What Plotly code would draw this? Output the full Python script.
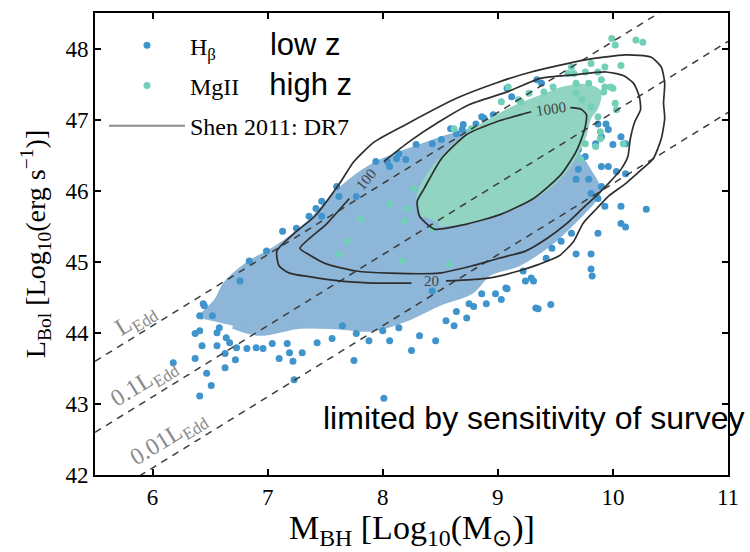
import plotly.graph_objects as go

# ---------------- data ----------------
# axis ticks
x_ticks = [6, 7, 8, 9, 10, 11]
y_ticks = [42, 43, 44, 45, 46, 47, 48]

# Eddington-ratio reference lines: log L = offset + log M
edd_names = ["L<sub>Edd</sub>", "0.1L<sub>Edd</sub>", "0.01L<sub>Edd</sub>"]
edd_offsets = [38.1, 37.1, 36.1]
edd_x_ends = [5.5, 11.0]
edd_label_M = [5.86, 5.93, 6.14]
edd_label_L = [44.18, 43.30, 42.50]

# dense H-beta (low z) region outline
blue_dense_M = [6.41, 6.56, 6.64, 6.84, 7.08, 7.36, 7.62, 7.91, 8.34, 8.75, 9.18, 9.66, 9.79, 9.87,
                9.74, 9.61, 9.47, 9.18, 8.92, 8.77, 8.49, 8.20, 7.91, 7.62, 7.28, 6.93, 6.70]
blue_dense_L = [44.21, 44.45, 44.69, 44.97, 45.19, 45.54, 45.99, 46.34, 46.62, 46.83, 46.90, 46.55, 46.27, 45.99,
                45.71, 45.50, 45.29, 44.98, 44.84, 44.59, 44.42, 44.20, 44.06, 44.09, 44.10, 44.00, 44.10]

# dense MgII (high z) region outline
teal_dense_M = [8.36, 8.32, 8.40, 8.58, 8.79, 9.01, 9.18, 9.40, 9.57, 9.74, 9.87, 9.85, 9.79, 9.74,
                9.68, 9.57, 9.40, 9.18, 8.96, 8.70, 8.49]
teal_dense_L = [45.64, 45.92, 46.20, 46.55, 46.83, 47.04, 47.18, 47.32, 47.42, 47.46, 47.39, 47.18, 47.04, 46.76,
                46.55, 46.27, 46.02, 45.81, 45.68, 45.57, 45.54]

# individual H-beta quasars
blue_M = [6.45, 6.41, 6.52, 6.37, 6.56, 6.43, 6.56, 6.67, 6.63, 6.73, 6.37, 6.47, 6.51, 6.41, 6.63, 6.72,
          6.82, 6.90, 6.96, 7.04, 7.17, 7.19, 7.30, 7.22, 7.10, 7.43, 7.56, 7.75, 7.23, 6.18, 6.44, 6.41,
          6.58, 6.64, 6.76, 6.84, 6.99, 7.13, 7.25, 7.36, 7.47, 7.42, 7.47, 7.60, 7.62, 7.77, 7.94, 8.06,
          8.14, 8.20, 8.29, 8.43, 8.51, 8.64, 8.69, 8.81, 8.86, 8.04, 8.12, 8.59, 8.70, 8.88, 8.96, 9.34,
          9.38, 9.12, 9.08, 9.94, 9.87, 9.96, 9.90, 10.07, 10.00, 10.11, 9.85, 9.70, 9.76, 9.90, 9.96, 10.03,
          10.11, 9.70, 9.79, 9.68, 9.81, 9.90, 9.87, 10.29, 10.07, 10.07, 10.11, 9.87, 9.68, 9.81, 9.81, 9.82,
          9.35, 9.46, 9.31, 9.29, 9.22, 9.93, 9.64, 9.55, 9.47, 9.42, 7.65, 7.77, 8.00, 8.14, 8.46, 8.25,
          8.55, 8.62, 8.73, 8.86, 8.98, 9.07, 9.24, 9.33, 8.75, 8.43, 8.01, 8.64, 8.79, 8.90, 9.03, 9.08,
          8.32, 8.06, 7.88]
blue_L = [44.38, 44.24, 44.24, 43.99, 44.00, 43.82, 43.82, 43.86, 43.71, 43.79, 43.64, 43.43, 43.26, 43.11, 43.51, 43.62,
          43.78, 43.79, 43.78, 43.85, 43.85, 43.72, 43.72, 43.60, 43.64, 43.86, 43.92, 43.61, 43.34, 43.58, 44.41, 44.03,
          44.07, 43.93, 44.73, 45.01, 45.15, 45.43, 45.47, 45.64, 45.64, 45.75, 45.85, 46.06, 45.92, 45.92, 46.41, 46.34,
          46.52, 46.44, 46.65, 46.66, 46.72, 46.80, 46.86, 46.94, 47.04, 46.41, 46.45, 46.87, 46.93, 47.02, 47.07, 47.56,
          47.51, 47.32, 47.44, 46.94, 46.94, 46.86, 46.76, 46.76, 46.65, 46.66, 46.66, 46.58, 46.48, 46.34, 46.34, 46.27,
          46.24, 46.30, 46.16, 46.16, 45.96, 46.06, 45.89, 45.74, 45.78, 45.54, 45.49, 45.40, 45.11, 45.11, 44.90, 44.80,
          44.34, 44.40, 44.73, 44.77, 44.87, 45.78, 45.40, 45.29, 45.19, 45.05, 44.10, 43.99, 44.03, 44.07, 43.89, 43.75,
          44.17, 44.10, 44.21, 44.55, 44.55, 44.63, 44.73, 44.35, 44.41, 44.59, 43.08, 44.30, 44.37, 44.41, 44.47, 44.62,
          43.96, 43.89, 43.89]

# individual MgII quasars
teal_M = [9.99, 10.02, 10.20, 10.26, 10.07, 9.93, 9.87, 9.81, 9.76, 9.90, 9.93, 9.98, 9.79, 10.02, 10.03, 9.87,
          10.09, 9.85, 9.76, 9.68, 9.61, 9.64, 9.09, 9.68, 9.73, 9.81, 9.72, 9.92, 10.00, 9.20, 8.62, 9.03,
          8.77, 9.48, 9.66, 9.89, 9.89, 8.27, 8.21, 8.19, 7.81, 7.69, 7.62, 8.17, 8.58, 8.06, 8.43, 9.18,
          9.27, 9.40]
teal_L = [48.14, 48.05, 48.12, 48.09, 47.76, 47.74, 47.67, 47.79, 47.67, 47.56, 47.46, 47.46, 47.51, 47.23, 47.14, 47.04,
          46.66, 46.62, 46.66, 47.51, 47.65, 47.74, 47.46, 47.37, 47.28, 47.18, 46.44, 47.39, 47.44, 47.25, 46.87, 47.25,
          46.87, 47.46, 47.65, 46.73, 46.83, 46.03, 45.75, 45.57, 45.61, 45.29, 45.11, 45.01, 44.97, 45.81, 45.47, 47.28,
          47.37, 47.39]

# Shen 2011 DR7 density contours (levels 20, 100, 1000)
outer_M = [8.25, 7.91, 7.62, 7.36, 7.19, 7.10, 7.08, 7.23, 7.41, 7.62, 7.75, 7.93, 8.21, 8.64, 9.01, 9.29, 9.76, 10.11,
           10.33, 10.42, 10.45, 10.44, 10.45, 10.42, 10.35, 10.25, 10.11, 9.96, 9.86, 9.74, 9.66, 9.53, 9.35, 9.18, 8.92, 8.55]
outer_L = [44.70, 44.70, 44.73, 44.79, 44.84, 44.94, 45.15, 45.40, 45.64, 46.09, 46.41, 46.69, 46.94, 47.30, 47.53, 47.67,
           47.84, 47.91, 47.88, 47.74, 47.51, 47.23, 47.02, 46.73, 46.45, 46.30, 46.10, 45.92, 45.75, 45.54, 45.29, 45.08,
           44.96, 44.87, 44.77, 44.73]
middle_M = [8.01, 8.23, 8.49, 8.75, 9.08, 9.37, 9.66, 9.94, 10.09, 10.18, 10.23, 10.24, 10.19, 10.15, 10.13, 10.07,
            9.96, 9.85, 9.73, 9.60, 9.42, 9.24, 9.01, 8.77, 8.49, 8.06, 7.77, 7.51, 7.36, 7.28, 7.51, 7.71]
middle_L = [46.41, 46.69, 46.97, 47.21, 47.39, 47.58, 47.63, 47.67, 47.62, 47.51, 47.32, 47.14, 46.97, 46.72, 46.48, 46.30,
            46.10, 45.92, 45.74, 45.54, 45.32, 45.15, 45.05, 44.94, 44.84, 44.84, 44.87, 44.97, 45.10, 45.19, 45.53, 45.89]
inner_M = [9.63, 9.72, 9.77, 9.76, 9.74, 9.68, 9.55, 9.31, 9.03, 8.73, 8.45, 8.32, 8.30, 8.36, 8.51, 8.73, 8.99, 9.20, 9.29]
inner_L = [47.17, 47.15, 47.07, 46.90, 46.79, 46.55, 46.23, 45.89, 45.67, 45.53, 45.46, 45.64, 45.85, 46.03, 46.45, 46.79,
           46.97, 47.07, 47.11]
contour_labels = ["20", "100", "1000"]
contour_label_M = [8.42, 7.86, 9.46]
contour_label_L = [44.73, 46.16, 47.15]
contour_label_angle = [0, -50, -8]

# ---------------- styling ----------------
BLUE = "#3f94cc"
BLUE_DENSE = "#8db6d9"
TEAL = "#72cfb8"
TEAL_DENSE = "#90d4c1"
CONTOUR = "#2e2e2e"
SERIF = "Liberation Serif"
SANS = "Liberation Sans"
SANS_SPAN = "<span style='font-family:Liberation Sans;font-size:31px'>{}</span>"

fig = go.Figure()

fig.add_trace(go.Scatter(x=blue_dense_M, y=blue_dense_L, mode="lines", fill="toself",
                         fillcolor=BLUE_DENSE, line=dict(color=BLUE_DENSE, width=6, shape="spline"),
                         showlegend=False, hoverinfo="skip"))
fig.add_trace(go.Scatter(x=blue_M, y=blue_L, mode="markers", legendgroup="hb",
                         marker=dict(color=BLUE, size=7, line=dict(width=0)),
                         name="H<sub>β</sub>" + "\u00a0" * 9 + SANS_SPAN.format("low z")))
fig.add_trace(go.Scatter(x=teal_dense_M, y=teal_dense_L, mode="lines", fill="toself",
                         fillcolor=TEAL_DENSE, line=dict(color=TEAL_DENSE, width=6, shape="spline"),
                         showlegend=False, hoverinfo="skip"))
fig.add_trace(go.Scatter(x=teal_M, y=teal_L, mode="markers", legendgroup="mg",
                         marker=dict(color=TEAL, size=7, line=dict(width=0)),
                         name="MgII" + "\u00a0" * 5 + SANS_SPAN.format("high z")))

# Eddington lines
for off in edd_offsets:
    fig.add_trace(go.Scatter(x=edd_x_ends, y=[off + m for m in edd_x_ends], mode="lines",
                             line=dict(color="#3c3c3c", width=1.5, dash="7px,6px"),
                             showlegend=False, hoverinfo="skip"))

# contours
for cm, cl in [(outer_M, outer_L), (middle_M, middle_L), (inner_M, inner_L)]:
    fig.add_trace(go.Scatter(x=cm, y=cl, mode="lines",
                             line=dict(color=CONTOUR, width=1.7, shape="spline", smoothing=0.6),
                             showlegend=False, hoverinfo="skip"))
# legend entry for the contours
fig.add_trace(go.Scatter(x=[None], y=[None], mode="lines", legendgroup="shen",
                         line=dict(color="#8c8c8c", width=2), name="Shen 2011: DR7"))

annotations = []
for name, m, l in zip(edd_names, edd_label_M, edd_label_L):
    annotations.append(dict(x=m, y=l, xref="x", yref="y", text=name, showarrow=False,
                            textangle=-31.7, font=dict(family=SERIF, size=24, color="#8a8a8a")))
for t, m, l, a in zip(contour_labels, contour_label_M, contour_label_L, contour_label_angle):
    annotations.append(dict(x=m, y=l, xref="x", yref="y", text=t, showarrow=False,
                            textangle=a, font=dict(family=SERIF, size=15, color="#444444")))
annotations.append(dict(x=0.3575, y=0.1228, xref="paper", yref="paper", xanchor="left", yanchor="middle",
                        text="limited by sensitivity of survey", showarrow=False,
                        font=dict(family=SANS, size=32, color="black")))
annotations.append(dict(x=0.5, y=0, xref="paper", yref="paper", xanchor="center", yanchor="middle",
                        yshift=-55, showarrow=False,
                        text="M<sub>BH</sub> [Log<sub>10</sub>(M<sub>⊙</sub>)]",
                        font=dict(family=SERIF, size=34, color="black")))
annotations.append(dict(x=-0.0945, y=0.5, xref="paper", yref="paper", xanchor="center", yanchor="middle",
                        textangle=-90, showarrow=False,
                        text="L<sub>Bol</sub> [Log<sub>10</sub>(erg s<sup>−1</sup>)]",
                        font=dict(family=SERIF, size=28, color="black")))

axis_common = dict(showline=True, linecolor="black", linewidth=2, mirror="ticks",
                   ticks="inside", ticklen=6, tickwidth=1.5, tickcolor="black",
                   showgrid=False, zeroline=False,
                   tickfont=dict(family=SERIF, size=23, color="black"))

fig.update_layout(
    width=750, height=552,
    margin=dict(l=95, r=20, t=11, b=77),
    paper_bgcolor="white", plot_bgcolor="white",
    xaxis=dict(range=[5.5, 11], tickvals=x_ticks, **axis_common),
    yaxis=dict(range=[42, 48.5], tickvals=y_ticks, **axis_common),
    legend=dict(x=0.0142, y=0.978, xanchor="left", yanchor="top", bgcolor="rgba(0,0,0,0)",
                font=dict(family=SERIF, size=24, color="black"), traceorder="grouped",
                tracegroupgap=6, itemwidth=76),
    annotations=annotations,
    showlegend=True,
)

fig.write_html("out.html")
